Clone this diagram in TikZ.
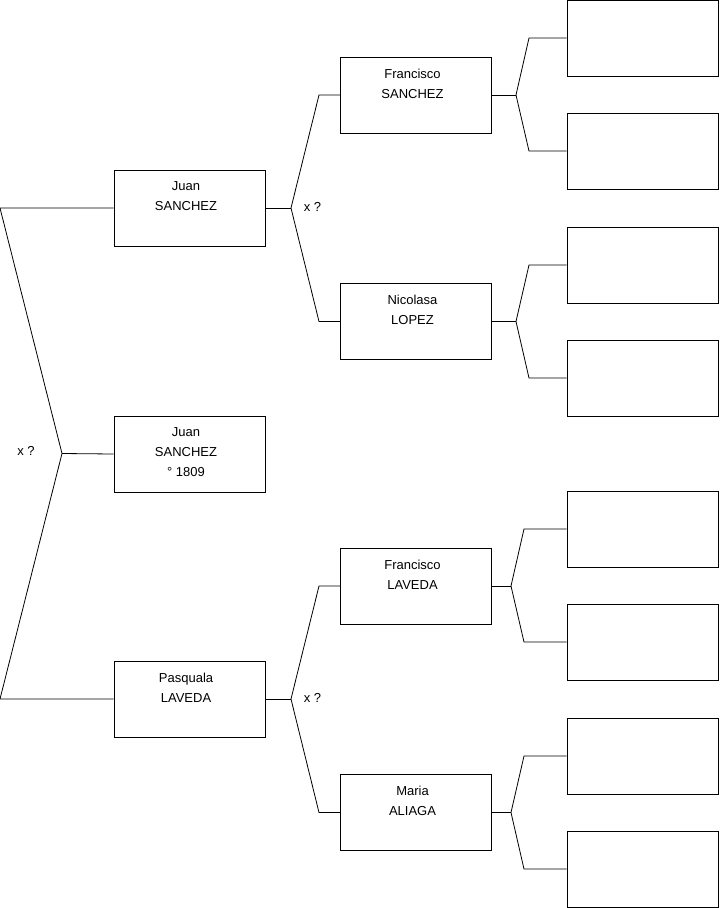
\documentclass[tikz,border=0pt]{standalone}
\usepackage{fontspec}
\setmainfont{Liberation Sans}
\begin{document}
\begin{tikzpicture}[x=0.75pt,y=-0.75pt,
  person/.style={draw=black,line width=0.6pt,minimum width=113.25pt,minimum height=57pt,inner sep=0pt,fill=white},
  txt/.style={align=center,anchor=north,inner sep=0pt,font=\fontsize{9.75}{15}\selectfont},
  link/.style={draw=black,line width=0.6pt},
  marriage/.style={inner sep=0pt,font=\fontsize{9.75}{12}\selectfont}]
\useasboundingbox (0,0) rectangle (719,908);
% generation 2
\node[person] (father) at (189.5,208) {};
\node[person] (child)  at (189.5,454) {};
\node[person] (mother) at (189.5,699) {};
% generation 3
\node[person] (fs) at (416,95) {};
\node[person] (nl) at (416,321.5) {};
\node[person] (fl) at (416,586) {};
\node[person] (ma) at (416,812.5) {};
% generation 4
\foreach \n/\y in {r1/38,r2/151,r3/265,r4/378,r5/529,r6/642,r7/756,r8/869}
  \node[person] (\n) at (642.5,\y) {};
% texts
\node[txt] (tfather) at ([xshift=-2.6pt,yshift=-9pt]father.north) {Juan\\SANCHEZ};
\node[txt] (tchild) at ([xshift=-2.6pt,yshift=-9pt]child.north) {Juan\\SANCHEZ\\° 1809};
\node[txt] (tmother) at ([xshift=-2.6pt,yshift=-9pt]mother.north) {Pasquala\\LAVEDA};
\node[txt] (tfs) at ([xshift=-2.6pt,yshift=-9pt]fs.north) {Francisco\\SANCHEZ};
\node[txt] (tnl) at ([xshift=-2.6pt,yshift=-9pt]nl.north) {Nicolasa\\LOPEZ};
\node[txt] (tfl) at ([xshift=-2.6pt,yshift=-9pt]fl.north) {Francisco\\LAVEDA};
\node[txt] (tma) at ([xshift=-2.6pt,yshift=-9pt]ma.north) {Maria\\ALIAGA};
% left fork
\coordinate (a) at (0,208);
\coordinate (b) at (62,453.5);
\coordinate (c) at (0,699);
\draw[link] (father.west) -- (a) -- (b) -- (c) -- (mother.west);
\draw[link] (b) -- (child.west);
\node[marriage] (m1) at (26,451) {x ?};
% father fork
\coordinate (j1) at (291,208);
\draw[link] (father.east) -- (j1);
\draw[link] (j1) -- (319,95) -- (fs.west);
\draw[link] (j1) -- (319,321.5) -- (nl.west);
\node[marriage] (m2) at (312.5,207) {x ?};
% mother fork
\coordinate (j2) at (291,699);
\draw[link] (mother.east) -- (j2);
\draw[link] (j2) -- (319,586) -- (fl.west);
\draw[link] (j2) -- (319,812.5) -- (ma.west);
\node[marriage] (m3) at (312.5,698) {x ?};
% third generation forks
\coordinate (k1) at (516,95);
\draw[link] (fs.east) -- (k1);
\draw[link] (k1) -- (529,38) -- (r1.west);
\draw[link] (k1) -- (529,151) -- (r2.west);
\coordinate (k2) at (516,321.5);
\draw[link] (nl.east) -- (k2);
\draw[link] (k2) -- (529,265) -- (r3.west);
\draw[link] (k2) -- (529,378) -- (r4.west);
\coordinate (k3) at (511,586);
\draw[link] (fl.east) -- (k3);
\draw[link] (k3) -- (524,529) -- (r5.west);
\draw[link] (k3) -- (524,642) -- (r6.west);
\coordinate (k4) at (511,812.5);
\draw[link] (ma.east) -- (k4);
\draw[link] (k4) -- (524,756) -- (r7.west);
\draw[link] (k4) -- (524,869) -- (r8.west);
\end{tikzpicture}
\end{document}
